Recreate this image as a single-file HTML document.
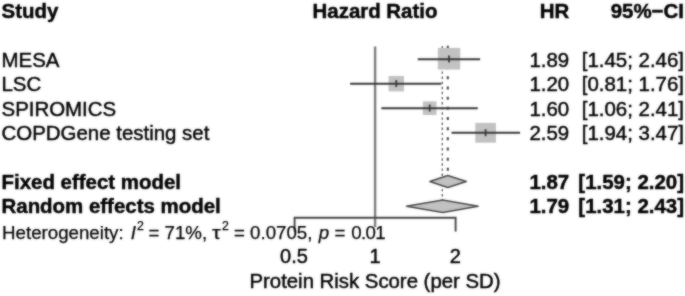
<!DOCTYPE html>
<html><head><meta charset="utf-8">
<style>
html,body{margin:0;padding:0;background:#fff;}
body{width:685px;height:296px;position:relative;overflow:hidden;font-family:"Liberation Sans",sans-serif;color:#000;-webkit-text-stroke:0.45px #000;}
.t{position:absolute;white-space:pre;font-size:20.45px;line-height:24px;height:24px;}
.b{font-weight:bold;}
sup{font-size:0.66em;line-height:0;vertical-align:9.3px;}
svg{position:absolute;left:0;top:0;}
</style></head><body><svg width="0" height="0" style="position:absolute"><filter id="soft" x="-2%" y="-2%" width="104%" height="104%" color-interpolation-filters="sRGB"><feGaussianBlur stdDeviation="0.9" result="b"/><feComposite in="SourceGraphic" in2="b" operator="arithmetic" k1="0" k2="0.45" k3="0.55" k4="0"/></filter></svg>
<div id="w" style="position:absolute;left:0;top:0;width:685px;height:296px;filter:url(#soft);">
<svg width="685" height="296" viewBox="0 0 685 296">
<line x1="375.1" y1="46.5" x2="375.1" y2="227" stroke="#7c7c7c" stroke-width="2.4"/>
<line x1="442.3" y1="45.9" x2="442.3" y2="205" stroke="#5e5e5e" stroke-width="1.4" stroke-dasharray="2.4 2.707"/>
<line x1="447.8" y1="45.8" x2="447.8" y2="181" stroke="#444" stroke-width="2.1" stroke-dasharray="3 7.17"/>
<rect x="437.83" y="47.90" width="22.4" height="21.60" fill="#c2c2c2"/>
<rect x="388.57" y="75.95" width="15.4" height="15.40" fill="#c2c2c2"/>
<rect x="422.88" y="101.35" width="13.6" height="13.60" fill="#c2c2c2"/>
<rect x="475.32" y="122.90" width="20.6" height="19.80" fill="#c2c2c2"/>
<g stroke="#383838" stroke-width="2">
<line x1="417.75" y1="59.2" x2="480.14" y2="59.2"/>
<line x1="449.03" y1="55.6" x2="449.03" y2="62.6" stroke-width="1.8"/>
<line x1="350.13" y1="83.65" x2="441.25" y2="83.65"/>
<line x1="396.27" y1="80.05000000000001" x2="396.27" y2="87.05000000000001" stroke-width="1.8"/>
<line x1="381.37" y1="108.15" x2="477.76" y2="108.15"/>
<line x1="429.68" y1="104.55000000000001" x2="429.68" y2="111.55000000000001" stroke-width="1.8"/>
<line x1="451.56" y1="132.8" x2="520.09" y2="132.8"/>
<line x1="485.62" y1="129.20000000000002" x2="485.62" y2="136.20000000000002" stroke-width="1.8"/>
</g>
<polygon points="429.86,181.5 447.79,175.5 466.27,181.5 447.79,187.5" fill="#c2c2c2" stroke="#484848" stroke-width="1.5" stroke-linejoin="round"/>
<polygon points="406.46,206.2 442.72,199.89999999999998 478.22,206.2 442.72,212.5" fill="#c2c2c2" stroke="#484848" stroke-width="1.5" stroke-linejoin="round"/>
<g stroke="#444" stroke-width="1.9" fill="none"><polyline points="294.6,231.6 294.6,217.8 455.6,217.8 455.6,231.6"/></g>
</svg>
<div class="t b" style="left:1.5px;top:-0.99px;">Study</div>
<div class="t b" style="left:175px;width:400px;text-align:center;top:-0.99px;">Hazard Ratio</div>
<div class="t b" style="left:269.20000000000005px;width:300px;text-align:right;top:-0.99px;">HR</div>
<div class="t b" style="left:384px;width:300px;text-align:right;top:-0.99px;">95%−CI</div>
<div class="t " style="left:1.5px;top:47.91px;">MESA</div>
<div class="t " style="left:269.20000000000005px;width:300px;text-align:right;top:47.91px;">1.89</div>
<div class="t " style="left:384px;width:300px;text-align:right;top:47.91px;">[1.45; 2.46]</div>
<div class="t " style="left:1.5px;top:72.31px;">LSC</div>
<div class="t " style="left:269.20000000000005px;width:300px;text-align:right;top:72.31px;">1.20</div>
<div class="t " style="left:384px;width:300px;text-align:right;top:72.31px;">[0.81; 1.76]</div>
<div class="t " style="left:1.5px;top:96.76px;">SPIROMICS</div>
<div class="t " style="left:269.20000000000005px;width:300px;text-align:right;top:96.76px;">1.60</div>
<div class="t " style="left:384px;width:300px;text-align:right;top:96.76px;">[1.06; 2.41]</div>
<div class="t " style="left:1.5px;top:121.21px;">COPDGene testing set</div>
<div class="t " style="left:269.20000000000005px;width:300px;text-align:right;top:121.21px;">2.59</div>
<div class="t " style="left:384px;width:300px;text-align:right;top:121.21px;">[1.94; 3.47]</div>
<div class="t b" style="left:1.5px;top:170.01px;">Fixed effect model</div>
<div class="t b" style="left:1.5px;top:194.41px;">Random effects model</div>
<div class="t b" style="left:269.20000000000005px;width:300px;text-align:right;top:170.01px;">1.87</div>
<div class="t b" style="left:384px;width:300px;text-align:right;top:170.01px;">[1.59; 2.20]</div>
<div class="t b" style="left:269.20000000000005px;width:300px;text-align:right;top:194.41px;">1.79</div>
<div class="t b" style="left:384px;width:300px;text-align:right;top:194.41px;">[1.31; 2.43]</div>
<div class="t" style="left:2.1px;top:220.92px;font-size:18.7px;-webkit-text-stroke-width:0.25px;">Heterogeneity: <i style="margin-left:2px">I</i><sup style="margin-left:1px;margin-right:-0.7px">2</sup> = 71%, <span style="display:inline-block;margin-left:-0.8px;transform:scaleX(1.18);transform-origin:0 50%">τ</span><sup style="margin-left:3px">2</sup> = 0.0705, <i style="margin-left:1.2px">p</i> = <span style="margin-left:0.7px;letter-spacing:-0.6px">0.01</span></div>
<div class="t " style="left:94.0px;width:400px;text-align:center;top:243.51px;font-size:20px;">0.5</div>
<div class="t " style="left:175.10000000000002px;width:400px;text-align:center;top:243.51px;font-size:20px;">1</div>
<div class="t " style="left:255.3px;width:400px;text-align:center;top:243.51px;font-size:20px;">2</div>
<div class="t " style="left:175px;width:400px;text-align:center;top:269.41px;font-size:20.35px;">Protein Risk Score (per SD)</div>
</div></body></html>
